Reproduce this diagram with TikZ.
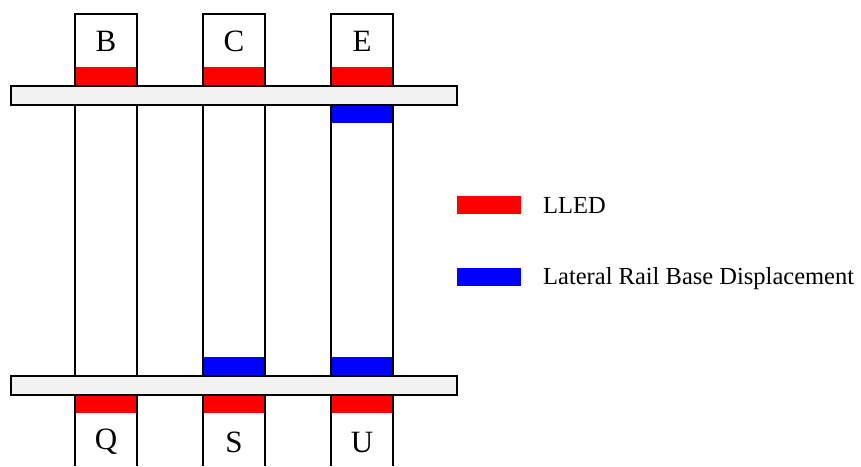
\documentclass[tikz,border=0pt]{standalone}
\usepackage{fontspec}
\setmainfont{Liberation Serif}
\begin{document}
\begin{tikzpicture}[x=1pt,y=-1pt,
  tie/.style={draw=black,line width=2pt},
  railbar/.style={draw=black,line width=2pt,fill=black!5},
  tielabel/.style={font=\fontsize{31}{31}\selectfont,inner sep=0pt},
  keybox/.style={minimum width=64pt,minimum height=18pt,inner sep=0pt,draw=none},
  keytext/.style={font=\fontsize{24.5}{26}\selectfont,anchor=base west,inner sep=0pt}]
\useasboundingbox (0,0) rectangle (861,466);
\fill[white] (0,0) rectangle (861,466);
% tie bodies
\foreach \x in {75,203,331} {
  \fill[white] (\x,14) rectangle ({\x+62},466);
  \fill[red] (\x,67) rectangle ({\x+62},86);
  \fill[red] (\x,396) rectangle ({\x+62},413);
}
% lateral displacement marks
\fill[blue] (331,105) rectangle (393,123);
\fill[blue] (203,357) rectangle (265,375);
\fill[blue] (331,357) rectangle (393,375);
% tie outlines
\foreach \x in {75,203,331} {
  \draw[tie] (\x,466) -- (\x,14) -- ({\x+62},14) -- ({\x+62},466);
}
% rails
\draw[railbar] (11,86) rectangle (457,105);
\draw[railbar] (11,376) rectangle (457,395);
% tie labels
\node[tielabel] (b) at (106,41) {B};
\node[tielabel] (c) at (234,41) {C};
\node[tielabel] (e) at (362,41) {E};
\node[tielabel] (q) at (106,442) {Q};
\node[tielabel] (s) at (234,442) {S};
\node[tielabel] (u) at (362,442) {U};
% legend
\node[keybox,fill=red] (keylled) at (489,204.5) {};
\node[keytext] (txtlled) at (543,213) {LLED};
\node[keybox,fill=blue] (keylrbd) at (489,276.5) {};
\node[keytext] (txtlrbd) at (543,284) {Lateral Rail Base Displacement};
\end{tikzpicture}
\end{document}
